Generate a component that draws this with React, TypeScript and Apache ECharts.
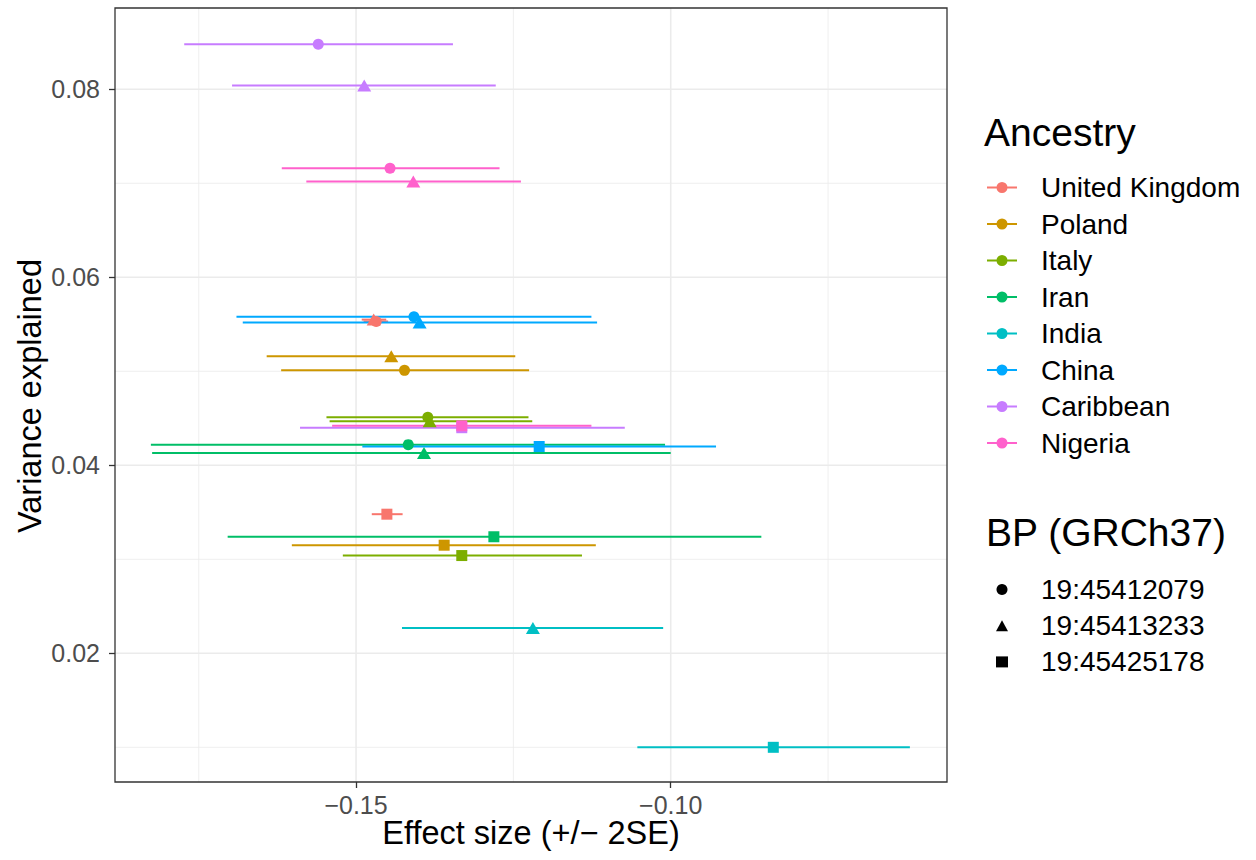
import React, { useEffect, useRef } from "react";
import * as echarts from "echarts";

const FONT = '"Liberation Sans", Arial, Helvetica, sans-serif';

// Categories
const ancestries = ["United Kingdom", "Poland", "Italy", "Iran", "India", "China", "Caribbean", "Nigeria"];
const ancestryColors = ["#F8766D", "#CD9600", "#7CAE00", "#00BE67", "#00BFC4", "#00A9FF", "#C77CFF", "#FF61CC"];
const snpLabels = ["19:45412079", "19:45413233", "19:45425178"];

// One row per (ancestry, SNP) estimate
const rowAncestry = [0, 0, 0, 1, 1, 1, 2, 2, 2, 3, 3, 3, 4, 4, 5, 5, 5, 6, 6, 6, 7, 7, 7];
const rowSnp = [0, 1, 2, 0, 1, 2, 0, 1, 2, 0, 1, 2, 1, 2, 0, 1, 2, 0, 1, 2, 0, 1, 2];
const effect = [
  -0.1468, -0.1472, -0.1451,
  -0.1423, -0.1444, -0.136,
  -0.1386, -0.1383, -0.1332,
  -0.1417, -0.1392, -0.1281,
  -0.1219, -0.0837,
  -0.1408, -0.1399, -0.1209,
  -0.156, -0.1487, -0.1332,
  -0.1446, -0.1409, -0.1332,
];
const lower = [
  -0.1488, -0.1491, -0.1475,
  -0.1619, -0.1642, -0.1602,
  -0.1547, -0.1542, -0.1521,
  -0.1826, -0.1824, -0.1704,
  -0.1427, -0.1053,
  -0.169, -0.168, -0.149,
  -0.1773, -0.1697, -0.1589,
  -0.1618, -0.1579, -0.1538,
];
const upper = [
  -0.1449, -0.1452, -0.1426,
  -0.1225, -0.1247, -0.1119,
  -0.1226, -0.122, -0.1141,
  -0.1009, -0.1, -0.0856,
  -0.1012, -0.062,
  -0.1126, -0.1117, -0.0928,
  -0.1346, -0.1278, -0.1073,
  -0.1272, -0.1238, -0.1126,
];
const varianceExplained = [
  0.0553, 0.0555, 0.0348,
  0.0501, 0.0516, 0.0315,
  0.0451, 0.0447, 0.0304,
  0.0422, 0.0413, 0.0324,
  0.0227, 0.01,
  0.0558, 0.0552, 0.042,
  0.0848, 0.0804, 0.044,
  0.0716, 0.0702, 0.0442,
];

// Axes
const xRange = [-0.1883, -0.0561];
const yRange = [0.00631, 0.08865];
const xTickValues = [-0.15, -0.1];
const yTickValues = [0.02, 0.04, 0.06, 0.08];
const xMinorGrid = [-0.175, -0.125, -0.075];
const yMinorGrid = [0.01, 0.03, 0.05, 0.07];

const snpSymbols = ["circle", "triangle", "rect"];
const snpSymbolSizes: any[] = [11, [14, 12], 11];

const LINE_DOT =
  "path://M0,4.5L30,4.5L30,6.5L0,6.5Z M20.5,5.5A5.5,5.5,0,1,1,9.5,5.5A5.5,5.5,0,1,1,20.5,5.5Z";

export default function App() {
  const ref = useRef<HTMLDivElement>(null);

  useEffect(() => {
    if (!ref.current) return;
    const chart = echarts.init(ref.current, null, { renderer: "svg" });

    const gridData: any[] = [];
    xTickValues.forEach((v) => gridData.push([v, yRange[0], 0, 1]));
    xMinorGrid.forEach((v) => gridData.push([v, yRange[0], 0, 0]));
    yTickValues.forEach((v) => gridData.push([xRange[0], v, 1, 1]));
    yMinorGrid.forEach((v) => gridData.push([xRange[0], v, 1, 0]));

    const gridSeries = {
      type: "custom",
      name: "__grid",
      silent: true,
      z: 1,
      data: gridData,
      renderItem: (params: any, api: any) => {
        const cs = params.coordSys;
        const p = api.coord([api.value(0), api.value(1)]);
        const vertical = api.value(2) === 0;
        const major = api.value(3) === 1;
        const shape = vertical
          ? { x1: p[0], y1: cs.y, x2: p[0], y2: cs.y + cs.height }
          : { x1: cs.x, y1: p[1], x2: cs.x + cs.width, y2: p[1] };
        return {
          type: "line",
          shape,
          style: { stroke: "#EBEBEB", lineWidth: major ? 1.6 : 0.8 },
        };
      },
    };

    const barSeries = ancestries.map((name, ai) => ({
      type: "custom",
      name,
      z: 2,
      itemStyle: { color: ancestryColors[ai] },
      encode: { x: [0, 1], y: 2 },
      data: rowAncestry
        .map((a, i) => (a === ai ? [lower[i], upper[i], varianceExplained[i]] : null))
        .filter((d) => d !== null),
      renderItem: (params: any, api: any) => {
        const p1 = api.coord([api.value(0), api.value(2)]);
        const p2 = api.coord([api.value(1), api.value(2)]);
        return {
          type: "line",
          shape: { x1: p1[0], y1: p1[1], x2: p2[0], y2: p2[1] },
          style: { stroke: api.visual("color"), lineWidth: 2 },
        };
      },
    }));

    const pointSeries = snpLabels.map((name, si) => ({
      type: "scatter",
      name,
      z: 3,
      symbol: snpSymbols[si],
      symbolSize: snpSymbolSizes[si],
      itemStyle: { color: "#000", opacity: 1 },
      data: rowSnp
        .map((s, i) =>
          s === si
            ? {
                value: [effect[i], varianceExplained[i]],
                itemStyle: { color: ancestryColors[rowAncestry[i]] },
              }
            : null
        )
        .filter((d) => d !== null),
    }));

    const fmtX = (v: number) => {
      if (!xTickValues.some((t) => Math.abs(t - v) < 1e-9)) return "";
      return (v < 0 ? "\u2212" : "") + Math.abs(v).toFixed(2);
    };
    const fmtY = (v: number) => {
      if (!yTickValues.some((t) => Math.abs(t - v) < 1e-9)) return "";
      return v.toFixed(2);
    };

    const option: any = {
      animation: false,
      backgroundColor: "#ffffff",
      grid: {
        left: 115,
        top: 8,
        width: 832,
        height: 774,
        show: true,
        borderColor: "#333333",
        borderWidth: 1.3,
        backgroundColor: "transparent",
        z: 4,
      },
      xAxis: {
        type: "value",
        min: xRange[0],
        max: xRange[1],
        interval: 0.05,
        axisLine: { show: false },
        splitLine: { show: false },
        axisTick: {
          show: true,
          length: 6,
          customValues: xTickValues,
          lineStyle: { color: "#333333", width: 1.3 },
        },
        axisLabel: {
          customValues: xTickValues,
          formatter: fmtX,
          color: "#4D4D4D",
          fontSize: 25,
          fontFamily: FONT,
          margin: 10,
        },
      },
      yAxis: {
        type: "value",
        min: yRange[0],
        max: yRange[1],
        interval: 0.02,
        axisLine: { show: false },
        splitLine: { show: false },
        axisTick: {
          show: true,
          length: 6,
          customValues: yTickValues,
          lineStyle: { color: "#333333", width: 1.3 },
        },
        axisLabel: {
          customValues: yTickValues,
          formatter: fmtY,
          color: "#4D4D4D",
          fontSize: 25,
          fontFamily: FONT,
          margin: 15,
        },
      },
      legend: [
        {
          orient: "vertical",
          left: 987,
          top: 173.5,
          padding: 0,
          itemWidth: 30,
          itemHeight: 11,
          itemGap: 8.5,
          selectedMode: false,
          data: ancestries.map((name) => ({ name, icon: LINE_DOT })),
          textStyle: {
            fontSize: 28,
            fontFamily: FONT,
            color: "#000",
            lineHeight: 27,
            padding: [0, 0, 0, 19],
          },
        },
        {
          orient: "vertical",
          left: 996,
          top: 575.5,
          padding: 0,
          itemWidth: 12,
          itemHeight: 11,
          itemGap: 8.2,
          selectedMode: false,
          data: snpLabels.map((name, i) => ({
            name,
            icon: snpSymbols[i],
            itemStyle: { color: "#000" },
          })),
          textStyle: {
            fontSize: 28,
            fontFamily: FONT,
            color: "#000",
            lineHeight: 27,
            padding: [0, 0, 0, 28],
          },
        },
      ],
      graphic: [
        {
          type: "text",
          x: 531,
          y: 833,
          silent: true,
          style: {
            text: "Effect size (+/\u2212 2SE)",
            fontSize: 32.5,
            fontFamily: FONT,
            fill: "#000",
            align: "center",
            verticalAlign: "middle",
          },
        },
        {
          type: "text",
          x: 30,
          y: 396,
          rotation: Math.PI / 2,
          silent: true,
          style: {
            text: "Variance explained",
            fontSize: 32.5,
            fontFamily: FONT,
            fill: "#000",
            align: "center",
            verticalAlign: "middle",
          },
        },
        {
          type: "text",
          x: 984,
          y: 132,
          silent: true,
          style: {
            text: "Ancestry",
            fontSize: 39,
            fontFamily: FONT,
            fill: "#000",
            align: "left",
            verticalAlign: "middle",
          },
        },
        {
          type: "text",
          x: 986,
          y: 532,
          silent: true,
          style: {
            text: "BP (GRCh37)",
            fontSize: 39,
            fontFamily: FONT,
            fill: "#000",
            align: "left",
            verticalAlign: "middle",
          },
        },
      ],
      series: [gridSeries, ...barSeries, ...pointSeries],
    };

    chart.setOption(option);
    return () => chart.dispose();
  }, []);

  return (
    <div
      ref={ref}
      style={{ position: "fixed", left: 0, top: 0, width: 1256, height: 860, background: "#fff" }}
    />
  );
}
